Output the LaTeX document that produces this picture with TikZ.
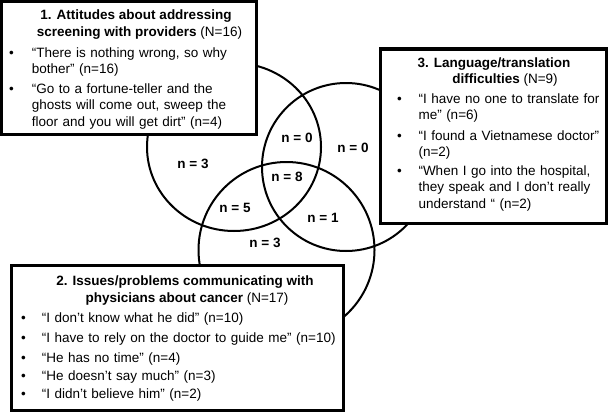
\documentclass[tikz,border=0pt]{standalone}
\usepackage{fontspec}
\setmainfont{Liberation Sans}
\begin{document}
\begin{tikzpicture}[x=1pt,y=-1pt,
  fs/.style={font=\fontsize{13.5}{16.8}\selectfont},
  box/.style={draw,line width=3pt,fill=white},
  venn/.style={line width=2pt},
  hd/.style={fs,anchor=base,inner sep=0pt},
  itm/.style={fs,anchor=base west,inner sep=0pt,text width=#1,align=left},
  itm/.default=300pt,
  bul/.style={fs,anchor=base west,inner sep=0pt},
  cnt/.style={font=\fontsize{13.5}{16.8}\selectfont\bfseries,inner sep=0pt}]
\useasboundingbox (0,0) rectangle (609,412);
% Venn circles
\draw[venn] (234,147) ellipse [x radius=87pt, y radius=84pt];
\draw[venn] (286.5,250) ellipse [x radius=88pt, y radius=88pt];
\draw[venn] (346,167) ellipse [x radius=84pt, y radius=84pt];
% counts
\node[cnt] (c1) at (193,164) {n = 3};
\node[cnt] (c13) at (297,138) {n = 0};
\node[cnt] (c3) at (353,148) {n = 0};
\node[cnt] (c123) at (287,177) {n = 8};
\node[cnt] (c12) at (235,208) {n = 5};
\node[cnt] (c23) at (323,218) {n = 1};
\node[cnt] (c2) at (265,243) {n = 3};
% Box 1
\draw[box] (1.5,1.5) rectangle (256,134.5);
\node[hd] (h1a) at (136,20) {\bfseries 1. Attitudes about addressing};
\node[hd] (h1b) at (139.5,37) {\textbf{screening with providers} (N=16)};
\node[bul] (b1a) at (9,57) {•};
\node[itm] (i1a) at (31.7,57) {“There is nothing wrong, so why\\bother” (n=16)};
\node[bul] (b1b) at (9,93) {•};
\node[itm] (i1b) at (31.7,93) {“Go to a fortune-teller and the\\ghosts will come out, sweep the\\floor and you will get dirt” (n=4)};
% Box 3
\draw[box] (380,49) rectangle (606.5,223.5);
\node[hd] (h3a) at (494,67) {\bfseries 3. Language/translation};
\node[hd] (h3b) at (505,83) {\textbf{difficulties} (N=9)};
\node[bul] (b3a) at (397,103) {•};
\node[itm] (i3a) at (418.3,103) {“I have no one to translate for\\me” (n=6)};
\node[bul] (b3b) at (397,140) {•};
\node[itm] (i3b) at (418.3,140) {“I found a Vietnamese doctor”\\(n=2)};
\node[bul] (b3c) at (397,175) {•};
\node[itm] (i3c) at (418.3,175) {“When I go into the hospital,\\they speak and I don’t really\\understand “ (n=2)};
% Box 2
\draw[box] (11.5,265) rectangle (343.5,410.5);
\node[hd] (h2a) at (185,285) {\bfseries 2. Issues/problems communicating with};
\node[hd] (h2b) at (187,302) {\textbf{physicians about cancer} (N=17)};
\node[bul] (b2a) at (21,322) {•};
\node[itm] (i2a) at (41.7,322) {“I don’t know what he did” (n=10)};
\node[bul] (b2b) at (21,342) {•};
\node[itm] (i2b) at (41.7,342) {“I have to rely on the doctor to guide me” (n=10)};
\node[bul] (b2c) at (21,362) {•};
\node[itm] (i2c) at (41.7,362) {“He has no time” (n=4)};
\node[bul] (b2d) at (21,380) {•};
\node[itm] (i2d) at (41.7,380) {“He doesn’t say much” (n=3)};
\node[bul] (b2e) at (21,398) {•};
\node[itm] (i2e) at (41.7,398) {“I didn’t believe him” (n=2)};
\end{tikzpicture}
\end{document}
